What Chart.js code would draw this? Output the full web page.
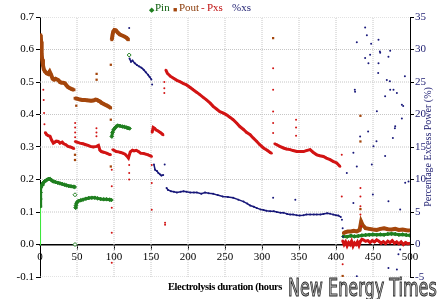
<!DOCTYPE html>
<html>
<head>
<meta charset="utf-8">
<script src="https://cdn.jsdelivr.net/npm/chart.js@4.4.1/dist/chart.umd.min.js"></script>
<style>
  html, body { margin: 0; padding: 0; background: #fff; }
  #wrap { position: relative; width: 437px; height: 299px; overflow: hidden; font-family: "Liberation Serif", "Times New Roman", serif; }
  #chart { position: absolute; left: 0; top: 0; }
  .lg { position: absolute; top: 0px; font-size: 11px; line-height: 14px; white-space: nowrap; }
  #xtitle { position: absolute; left: 168px; top: 281px; font-size: 10.5px; font-weight: bold; white-space: nowrap; letter-spacing: -0.4px; }
  #ytitle { position: absolute; left: 348px; top: 141px; width: 160px; height: 12px; line-height: 12px; text-align: center;
            font-size: 10px; color: #1c1c70; transform: rotate(-90deg); white-space: nowrap; }
  #logo { position: absolute; left: 288px; top: 275px; font-family: "Liberation Sans Narrow", "DejaVu Sans Condensed", sans-serif;
          font-size: 25px; line-height: 25px; color: #b4b4b4; -webkit-text-stroke: 0.9px #262626; white-space: nowrap;
          transform-origin: left top; }
</style>
</head>
<body>
<div id="wrap">
  <canvas id="chart" width="437" height="299"></canvas>
  <span class="lg" style="left:149px;color:#1f7f1f;font-size:7px;top:3px">&#9670;</span>
  <span class="lg" style="left:155px;color:#0d5e0d">Pin</span>
  <span class="lg" style="left:173px;color:#a4460c;font-size:7px;top:3px">&#9632;</span>
  <span class="lg" style="left:179px;color:#8a3a08">Pout</span>
  <span class="lg" style="left:201px;color:#c01010">-</span>
  <span class="lg" style="left:207px;color:#c01010">Pxs</span>
  <span class="lg" style="left:232px;color:#1c1c70">%xs</span>
  <div id="xtitle">Electrolysis duration (hours</div>
  <div id="ytitle">Percentage Excess Power (%)</div>
  <div id="logo">New Energy Times</div>
</div>
<script>
// axis ticks
const xTicks = [0, 50, 100, 150, 200, 250, 300, 350, 400, 450, 500];
const powerTicks = [-0.1, 0, 0.1, 0.2, 0.3, 0.4, 0.5, 0.6, 0.7];
const pctTicks = [-5, 0, 5, 10, 15, 20, 25, 30, 35];

// Pin (W) - [hours, value]
const pinRise = [[0, 0], [0, 0.05], [0, 0.1], [0.2, 0.13]];
const pinSeg1 = [[0.4,0.118],[0.6,0.14],[0.8,0.16],[1.2,0.175],[2,0.18],[3,0.185],[4,0.189],[6,0.194],[8,0.197],[10,0.2],[12,0.202],[14,0.201],[16,0.197],[18,0.194],[21,0.192],[24,0.19],[27,0.188],[30,0.186],[33,0.184],[36,0.182],[39,0.18],[42,0.179],[45,0.178],[47,0.177]];
const pinSeg2 = [[48,0.113],[48.6,0.12],[49.3,0.127],[50.5,0.131],[52,0.134],[55,0.136],[58,0.138],[62,0.141],[66,0.143],[70,0.144],[74,0.144],[78,0.142],[82,0.14],[86,0.139],[90,0.139],[94,0.138],[96.5,0.137]];
const pinSeg3 = [[97,0.332],[98,0.345],[99.5,0.353],[101,0.358],[103,0.363],[105,0.366],[108,0.365],[111,0.363],[114,0.362],[117,0.36],[119,0.358],[121,0.357]];
const pinSeg4 = [[410,0.025],[415,0.024],[420,0.027],[425,0.025],[430,0.026],[435,0.028],[440,0.029],[445,0.03],[450,0.031],[455,0.03],[460,0.031],[465,0.03],[470,0.032],[475,0.033],[480,0.032],[485,0.03],[490,0.031],[495,0.029],[500,0.028]];
const pinOut = [[47.3,0.153],[47.3,0.0],[120.5,0.583]];

// Pout (W)
const poutSeg1 = [[1,0.645],[1.5,0.625],[2,0.605],[2.5,0.585],[3,0.57],[4,0.552],[5,0.54],[6.8,0.532],[9,0.527],[11,0.525],[13,0.532],[15,0.522],[17,0.51],[19,0.507],[21,0.51],[23,0.508],[25,0.505],[27,0.5],[29,0.498],[31,0.498],[33.5,0.496],[36,0.489],[38,0.484],[40.5,0.481],[43,0.478],[46,0.476]];
const poutSeg2 = [[47.3,0.45],[49,0.449],[51,0.448],[54,0.446],[57,0.445],[60,0.445],[63,0.444],[66,0.443],[69,0.442],[72,0.443],[75,0.446],[77,0.445],[79,0.442],[81,0.44],[83,0.436],[85.5,0.433],[88,0.43],[90,0.428],[92.5,0.425],[95.5,0.42]];
const poutSeg3 = [[97,0.63],[98,0.645],[99,0.655],[100.5,0.66],[102.5,0.659],[105,0.652],[108,0.646],[111,0.643],[114,0.64],[117,0.636],[119.5,0.63]];
const poutSeg4 = [[410,0.035],[413,0.038],[416,0.04],[420,0.04],[424,0.042],[428,0.04],[432,0.045],[434,0.07],[436,0.06],[440,0.05],[445,0.048],[450,0.046],[455,0.045],[460,0.048],[465,0.05],[470,0.047],[475,0.046],[480,0.048],[485,0.045],[490,0.046],[495,0.044],[500,0.043]];
const poutOut = [[47.3,0.276],[47.3,0.26],[49,0.427],[76.5,0.525],[76.5,0.507],[95.7,0.553],[95.7,0.384],[95.7,0.24],[315,0.635],[433,0.396],[433,0.317],[433,0.109],[409,-0.097]];

// Pxs (W)
const pxsSeg1 = [[7,0.345],[9,0.338],[11,0.335],[13.5,0.333],[16,0.32],[18,0.312],[20,0.315],[22,0.318],[24.7,0.317],[27,0.312],[30,0.315],[32,0.31],[35,0.307],[38,0.302],[41,0.3],[44,0.297],[46,0.295]];
const pxsSeg2 = [[47.5,0.317],[50,0.315],[54,0.312],[58,0.31],[62,0.307],[65,0.305],[68,0.302],[72,0.3],[76.5,0.302],[79,0.305],[81,0.29],[83,0.286],[86,0.284],[90,0.281],[93,0.278],[95.5,0.276]];
const pxsSeg3 = [[98,0.292],[100,0.29],[103,0.286],[106,0.285],[109,0.283],[112,0.281],[115,0.278],[117.5,0.272],[119.5,0.266],[122,0.285],[125,0.29],[127,0.288],[130,0.29],[133,0.286],[136,0.281],[140,0.28],[143,0.278],[146,0.276],[149,0.273],[151,0.271]];
const pxsSeg4 = [[151.5,0.345],[153,0.36],[155,0.357],[157,0.352],[159,0.35],[161,0.347],[163,0.344],[165,0.34],[166.5,0.337]];
const pxsSeg5 = [[170,0.537],[172,0.527],[176,0.518],[180,0.512],[185,0.505],[189,0.501],[194,0.495],[198,0.491],[203,0.483],[207,0.476],[212,0.468],[216,0.461],[221,0.452],[225,0.445],[230,0.435],[234,0.425],[239,0.416],[243,0.409],[248,0.404],[252,0.399],[257,0.391],[261,0.384],[266,0.373],[270,0.363],[275,0.354],[279,0.345],[284,0.338],[288,0.328],[293,0.317],[297,0.307],[302,0.297],[307,0.29],[311,0.283],[313,0.281]];
const pxsSeg6 = [[317,0.31],[320,0.307],[324,0.302],[329,0.297],[333,0.294],[338,0.292],[342,0.289],[347,0.286],[351,0.286],[356,0.286],[360,0.289],[365,0.292],[369,0.284],[374,0.276],[378,0.273],[383,0.271],[387,0.266],[392,0.261],[396,0.256],[401,0.251],[405.5,0.24]];
const pxsSeg7 = [[409,0.012],[411,0.0],[413,0.008],[415,-0.004],[417,0.006],[419,0.0],[421,0.01],[423,-0.005],[425,0.005],[427,0.0],[429,0.008],[431,-0.003],[433,0.01],[435,0.016],[437,0.014],[440,0.01],[443,0.012],[446,0.006],[449,0.012],[452,0.008],[455,0.014],[458,0.01],[461,0.004],[464,0.009],[467,0.003],[470,0.01],[473,0.006],[476,0.012],[479,0.004],[482,0.008],[485,0.002],[488,0.008],[491,0.0],[494,0.006],[497,0.002],[500,0.004]];
const pxsOut = [[4.5,0.476],[5,0.445],[5.5,0.405],[6,0.37],[47.5,0.374],[47.5,0.36],[47.5,0.345],[47.5,0.33],
  [76.3,0.358],[76.3,0.345],[76.3,0.333],[97,0.23],[97,0.179],[97,0.113],[97,0.036],[97,-0.056],
  [120.5,0.245],[120.5,0.22],[120.5,0.2],[151,0.245],[151,0.189],[151,0.107],[168,0.5],[168,0.481],[168,0.466],[169,0.067],[169,0.061],
  [315,0.542],[315,0.476],[315,0.409],[315,0.374],[315,0.343],[346,0.384],[346,0.36],[346,0.335],
  [407.8,0.276],[407.8,0.148],[409,-0.061],[433,0.174],[433,0.148],[433,0.118],[433,0.092],[434,0.056]];

// %xs (right axis)
const pctSeg1 = [[121,28.6],[123,28.1],[125,28.3],[128,27.9],[131,27.6],[134,27.4],[137,27.2],[140,26.9],[143,26.5],[146,26.1],[148,25.8],[150.5,25.4]];
const pctSeg2 = [[154,12.3],[155.5,11.5],[158,11.3],[160,11.0],[162,10.8],[164,10.6],[166.5,10.7]];
const pctSeg3 = [[171,8.7],[173,8.4],[177,8.2],[181,8.1],[185,8.0],[190,8.1],[194,8.2],[198,8.1],[203,8.0],[208,8.0],[212,8.0],[218,7.8],[223,8.0],[228,7.9],[234,7.8],[240,7.6],[247,7.4],[254,7.3],[261,7.2],[268,6.9],[275,6.6],[280,6.3],[284,6.0],[289,5.8],[293,5.6],[298,5.4],[302,5.3],[306,5.2],[311,5.1],[316,5.1],[320,5.0],[325,4.9],[329,4.9],[334,4.7],[338,4.6],[342,4.6],[347,4.5],[351,4.45],[356,4.5],[360,4.6],[365,4.6],[370,4.6],[374,4.6],[379,4.6],[383,4.7],[388,4.8],[392,4.75],[396,4.6],[400,4.5],[403,4.45],[406.5,4.25]];
const pctOut = [[120.5,33.3],[151.5,24.6],[168.5,12.3],[315,7.2],[345,6.9],[408,3.8],[409,2.5],[409.5,1.2],
  [439.4,33.4],[441.7,32.2],[457.4,31.5],[428.1,31.1],[447.5,30.9],[459.7,29.5],[473.2,29.8],[446.1,29.2],[439.4,28.7],[470.9,28.9],
  [443.8,27.9],[457.4,27.9],[457,26.4],[468.7,25.3],[473.2,23.8],[466.4,22.8],[477.7,23.8],[482.3,23.3],[489,21.5],[455.2,20.5],
  [489,19.4],[480,18.2],[476.9,16.4],[450.6,15.1],[466.4,13.6],[423.5,14.1],[428.1,12.0],[493.5,9.5],[498,9.7],[449.8,7.7],
  [470.9,6.65],[486.7,5.4],[423.5,6.4],[414.6,11.0],[432.6,16.6],[425.8,23.5],[448.4,12.3],[482.3,-3.84],[470.9,-3.6],[428.1,-4.9],
  [484.4,-1.5],[486.7,-0.77],[493.1,25.9],[472.8,25.1],[459.3,29.7],[490.8,21.3],[443.4,17.4],[454.7,15.9],[479.6,17.9],[425.4,23.8]];

const toPts = pairs => pairs.map(([x, y]) => ({ x, y }));
function joinSegs(...segs) {
  const out = [];
  segs.forEach((s, i) => {
    if (i) out.push({ x: s[0][0], y: null });
    s.forEach(([x, y]) => out.push({ x, y }));
  });
  return out;
}

// grid lines as a background dataset, broken into one segment per tick
const gridSegs = [
  ...xTicks.filter(v => v > 0 && v < 500).map(v => [[v, -0.1], [v, 0.7]]),
  ...powerTicks.filter(v => v !== 0).map(v => [[0, v], [500, v]])
];

const RED = '#d21414', BROWN = '#a4460c', GREEN = '#1f7f1f', NAVY = '#18187a';
const GRID = '#c6c6c6';
const serif = '"Liberation Serif", "Times New Roman", serif';

new Chart(document.getElementById('chart'), {
  type: 'scatter',
  data: {
    datasets: [
      { data: toPts(pctOut), yAxisID: 'y2', showLine: false, pointRadius: 1, pointBorderWidth: 0, backgroundColor: NAVY },
      { data: toPts(pxsOut), showLine: false, pointRadius: 1, pointBorderWidth: 0, backgroundColor: RED },
      { data: joinSegs(pxsSeg1, pxsSeg2, pxsSeg3, pxsSeg4, pxsSeg5, pxsSeg6, pxsSeg7), showLine: true, spanGaps: false,
        borderColor: RED, borderWidth: 3, pointRadius: 1.2, pointBorderWidth: 0, backgroundColor: RED },
      { data: toPts(poutOut), showLine: false, pointStyle: 'rect', pointRadius: 1.6, pointBorderWidth: 0, backgroundColor: BROWN },
      { data: joinSegs(poutSeg1, poutSeg2, poutSeg3, poutSeg4), showLine: true, spanGaps: false,
        borderColor: BROWN, borderWidth: 4, pointStyle: 'rect', pointRadius: 2, pointBorderWidth: 0, backgroundColor: BROWN },
      { data: toPts(pinOut), showLine: false, pointStyle: 'rectRot', pointRadius: 2, pointBorderWidth: 1, borderColor: GREEN, backgroundColor: '#fff' },
      { data: joinSegs(pinSeg1, pinSeg2, pinSeg3, pinSeg4), showLine: true, spanGaps: false,
        borderColor: GREEN, borderWidth: 3, pointStyle: 'rectRot', pointRadius: 1.8, pointBorderWidth: 1, backgroundColor: GREEN },
      { data: toPts(pinRise), showLine: true, borderColor: '#3ce63c', borderWidth: 2, pointRadius: 0 },
      { data: joinSegs(pctSeg1, pctSeg2, pctSeg3), yAxisID: 'y2', showLine: true, spanGaps: false,
        borderColor: NAVY, borderWidth: 1.5, pointRadius: 1, pointBorderWidth: 0, backgroundColor: NAVY },
      { data: joinSegs(...gridSegs), showLine: true, spanGaps: false, order: 5,
        borderColor: GRID, borderWidth: 1, borderDash: [1, 1], pointRadius: 0 }
    ]
  },
  options: {
    responsive: false,
    animation: false,
    devicePixelRatio: 1,
    layout: { padding: { top: 17, bottom: 22, left: 0, right: 0 } },
    plugins: { legend: { display: false }, tooltip: { enabled: false } },
    elements: { line: { tension: 0 } },
    scales: {
      x: {
        type: 'linear', position: { y: 0 }, min: 0, max: 500,
        afterBuildTicks: s => { s.ticks = xTicks.map(v => ({ value: v })); },
        ticks: { font: { family: serif, size: 11 }, color: '#000', padding: 2, maxRotation: 0, autoSkip: false },
        grid: { drawOnChartArea: false, tickColor: '#000', tickLength: 4 },
        border: { color: '#000', width: 1.5 }
      },
      y: {
        type: 'linear', position: 'left', min: -0.1, max: 0.7,
        afterBuildTicks: s => { s.ticks = powerTicks.map(v => ({ value: v })); },
        afterFit: s => { s.width = 40; },
        ticks: { font: { family: serif, size: 11 }, color: '#000', padding: 2, callback: v => v.toFixed(1) },
        grid: { drawOnChartArea: false, tickColor: '#000', tickLength: 4 },
        border: { color: '#000', width: 1 }
      },
      y2: {
        type: 'linear', position: 'right', min: -5, max: 35,
        afterBuildTicks: s => { s.ticks = pctTicks.map(v => ({ value: v })); },
        afterFit: s => { s.width = 27; },
        ticks: { font: { family: serif, size: 11 }, color: '#1c1c70', padding: 1 },
        grid: { drawOnChartArea: false, tickColor: '#000', tickLength: 4 },
        border: { color: '#000', width: 1 }
      }
    }
  }
});

// squeeze the logo into its 149px slot
const logo = document.getElementById('logo');
logo.style.transform = 'scaleX(' + (149 / logo.scrollWidth).toFixed(3) + ')';
</script>
</body>
</html>
